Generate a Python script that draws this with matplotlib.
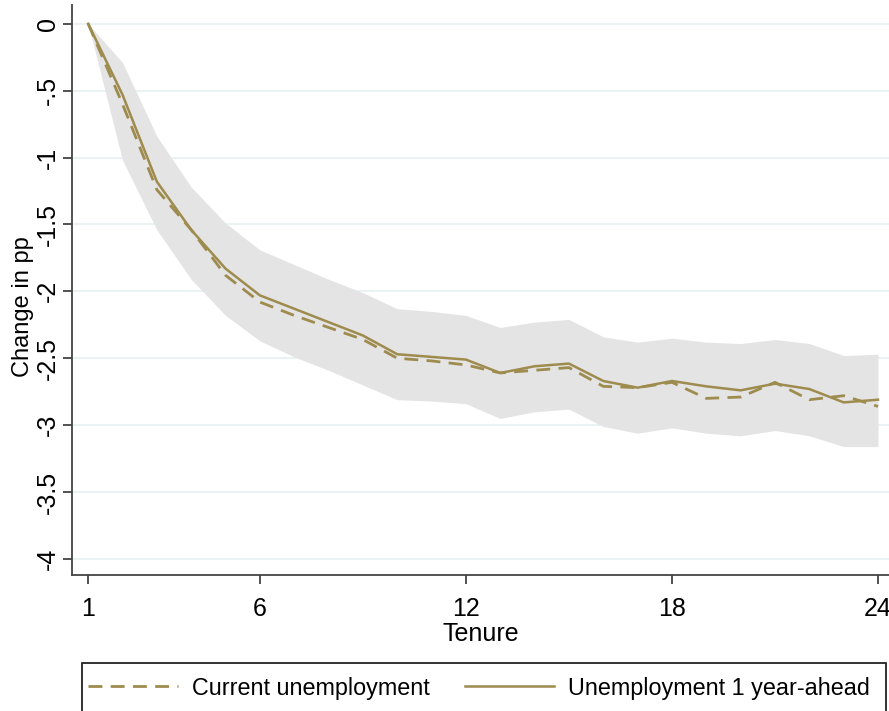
import matplotlib
matplotlib.use("Agg")
import matplotlib.pyplot as plt
from matplotlib.lines import Line2D
from matplotlib.patches import Rectangle

tenure = list(range(1, 25))
current_unemp = [0.0, -0.60, -1.24, -1.54, -1.88, -2.08, -2.18, -2.27, -2.36, -2.50, -2.52, -2.55,
                 -2.61, -2.59, -2.57, -2.71, -2.72, -2.68, -2.80, -2.79, -2.68, -2.81, -2.78, -2.86]
ahead_unemp = [0.0, -0.53, -1.18, -1.54, -1.83, -2.03, -2.13, -2.23, -2.33, -2.47, -2.49, -2.51,
               -2.61, -2.56, -2.54, -2.67, -2.72, -2.67, -2.71, -2.74, -2.69, -2.73, -2.83, -2.81]
ci_upper = [0.0, -0.29, -0.84, -1.22, -1.49, -1.69, -1.80, -1.91, -2.01, -2.13, -2.15, -2.18,
            -2.27, -2.23, -2.21, -2.34, -2.38, -2.35, -2.38, -2.39, -2.36, -2.39, -2.48, -2.47]
ci_lower = [0.0, -1.02, -1.54, -1.91, -2.18, -2.37, -2.49, -2.59, -2.70, -2.81, -2.82, -2.84,
            -2.95, -2.90, -2.88, -3.01, -3.06, -3.02, -3.06, -3.08, -3.04, -3.08, -3.16, -3.16]
xticks = [1, 6, 12, 18, 24]
yticks = [0, -0.5, -1, -1.5, -2, -2.5, -3, -3.5, -4]
ytick_labels = ["0", "-.5", "-1", "-1.5", "-2", "-2.5", "-3", "-3.5", "-4"]

font = ["Liberation Sans", "DejaVu Sans"]
line_color = "#9e8b4e"
W, H = 889, 711

fig = plt.figure(figsize=(W/100, H/100), dpi=100)
ax = fig.add_axes([72/W, 1-575/H, 1-72/W, (575-5)/H])

ax.fill_between(tenure, ci_lower, ci_upper, color="#e4e4e4", linewidth=0, zorder=1)
ax.plot(tenure, current_unemp, color=line_color, lw=2.0, ls=(0, (5, 3)), zorder=3)
ax.plot(tenure, ahead_unemp, color=line_color, lw=1.8, zorder=3)

ax.set_xlim(0.53, 24.32)
ax.set_ylim(-4.12, 0.14)
ax.set_yticks(yticks)
ax.set_yticklabels(ytick_labels, rotation=90, va="center", family=font, fontsize=18)
ax.set_xticks(xticks)
ax.set_xticklabels([str(t) for t in xticks], family=font, fontsize=18)
ax.grid(axis="y", color="#e6f0f2", lw=1.2, zorder=0)
ax.set_axisbelow(True)
for s in ["top", "right"]:
    ax.spines[s].set_visible(False)
for s in ["left", "bottom"]:
    ax.spines[s].set_color("#444444")
    ax.spines[s].set_linewidth(1.3)
ax.tick_params(axis="both", direction="out", length=6.5, width=1.3, color="#444444")
ax.tick_params(axis="x", pad=9)
ax.tick_params(axis="y", pad=2.5)

ax.set_xlabel("Tenure", family=font, fontsize=18, labelpad=1)
ax.set_ylabel("Change in pp", family=font, fontsize=17)
ax.yaxis.set_label_coords(-0.046, 0.47)

# legend frame (extends past the bottom edge as in the reference)
fig.patches.append(Rectangle((82/W, -0.05), (886-82)/W, (1-663/H) + 0.05,
                             transform=fig.transFigure, facecolor="white",
                             edgecolor="#222222", linewidth=1.3, zorder=0))
handles = [Line2D([], [], color=line_color, lw=2.0, ls=(0, (5, 3))),
           Line2D([], [], color=line_color, lw=1.8)]
leg = fig.legend(handles, ["Current unemployment", "Unemployment 1 year-ahead"],
                 loc="center left", bbox_to_anchor=(88/W, 1-688/H),
                 ncol=2, frameon=False, prop={"family": font, "size": 16.8},
                 handlelength=3.85, handletextpad=0.6, borderpad=0, borderaxespad=0,
                 columnspacing=1.5)

fig.savefig("out.png", dpi=100)
